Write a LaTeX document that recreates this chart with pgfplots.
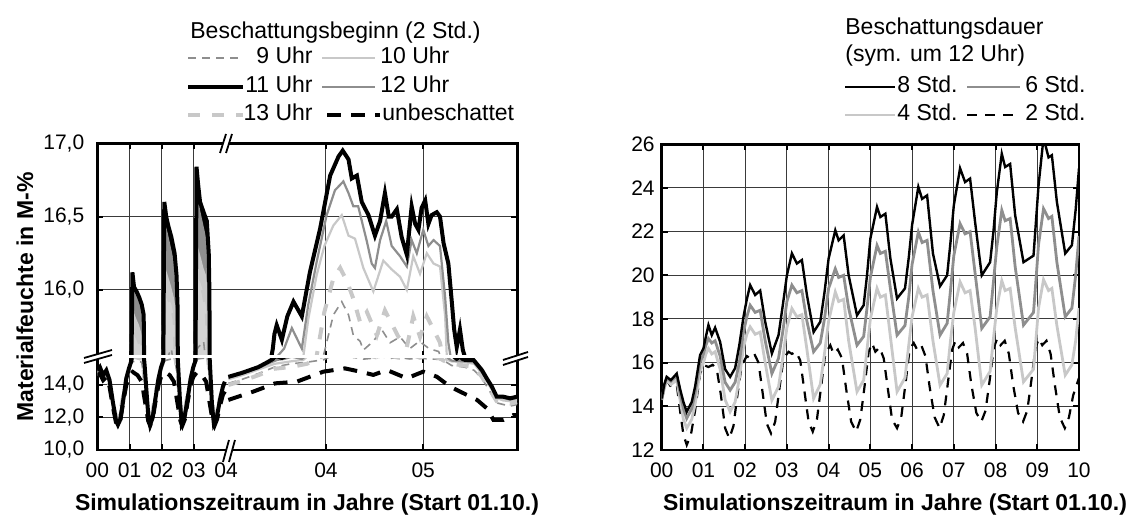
\documentclass[border=0pt]{standalone}
\usepackage{fontspec}
\setmainfont{Liberation Sans}
\usepackage{pgfplots}
\usepackage{pgfplotstable}
\pgfplotsset{compat=1.18}

\definecolor{ltgray}{HTML}{C8C8C8}
\definecolor{mdgray}{HTML}{8E8E8E}
\definecolor{dkgrid}{HTML}{3A3A3A}

% left panel: x in display units (00..04 compressed, then the zoomed part)
\pgfplotstableread{
x y
0 14.9
0.08 15.1
0.18 14.6
0.28 14.9
0.38 14.3
0.48 13.0
0.58 11.8
0.64 11.55
0.72 11.9
0.8 13.0
0.9 14.4
0.98 15.0
1.06 15.5
1.09 16.12
1.14 16.02
1.22 15.99
1.3 15.95
1.38 15.9
1.44 15.83
1.47 15.2
1.52 13.8
1.58 12.2
1.64 11.55
1.72 12.0
1.8 13.1
1.9 14.4
1.98 15.1
2.05 15.5
2.08 16.6
2.14 16.5
2.2 16.44
2.3 16.36
2.4 16.25
2.46 16.1
2.49 15.9
2.52 14.8
2.57 12.9
2.62 11.6
2.7 11.9
2.8 13.1
2.9 14.4
2.98 15.1
3.05 15.5
3.08 16.84
3.13 16.72
3.19 16.6
3.3 16.53
3.4 16.47
3.46 16.25
3.48 16.0
3.51 14.8
3.56 12.8
3.62 11.6
3.7 11.9
3.8 13.0
3.9 13.9
3.96 14.2
4.02 nan
4.07 14.5
4.5 14.75
5.0 15.1
5.31 15.43
5.45 15.6
5.5 15.7
5.57 15.76
5.73 15.66
5.9 15.82
6.09 15.92
6.35 15.82
6.6 16.12
6.92 16.42
7.23 16.78
7.49 16.91
7.62 16.95
7.8 16.89
7.9 16.76
8.06 16.78
8.21 16.6
8.42 16.51
8.62 16.37
8.78 16.47
8.93 16.66
9.05 16.5
9.14 16.5
9.3 16.55
9.45 16.36
9.61 16.24
9.76 16.57
9.87 16.45
9.97 16.41
10.07 16.56
10.18 16.61
10.28 16.45
10.38 16.51
10.54 16.53
10.64 16.5
10.75 16.32
10.9 16.18
11.01 15.91
11.08 15.73
11.16 15.61
11.26 15.73
11.35 15.59
11.42 15.54
11.68 15.54
11.94 14.92
12.09 14.41
12.25 13.9
12.4 13.28
12.6 13.28
12.82 13.18
13.03 13.28
}\tElf

\pgfplotstableread{
x y
0 14.8
0.08 15.0
0.18 14.5
0.28 14.8
0.38 14.2
0.48 12.9
0.58 11.9
0.64 11.75
0.72 12.1
0.8 13.1
0.9 14.4
0.98 15.0
1.06 15.5
1.09 16.05
1.16 15.97
1.24 15.93
1.32 15.89
1.4 15.83
1.44 15.6
1.47 15.0
1.52 13.6
1.58 12.3
1.64 11.8
1.72 12.2
1.8 13.2
1.9 14.4
1.98 15.1
2.05 15.5
2.08 16.45
2.16 16.38
2.24 16.3
2.32 16.22
2.4 16.12
2.46 15.95
2.5 15.3
2.55 13.6
2.6 12.3
2.64 11.8
2.72 12.1
2.8 13.2
2.9 14.4
2.98 15.1
3.05 15.5
3.08 16.7
3.15 16.55
3.22 16.48
3.3 16.4
3.4 16.3
3.45 16.0
3.49 15.2
3.54 13.5
3.6 12.2
3.64 11.8
3.72 12.1
3.82 13.2
3.9 13.9
3.96 14.1
4.02 nan
4.07 14.45
4.5 14.7
5.0 15.05
5.4 15.4
5.6 15.55
5.8 15.6
6.04 15.74
6.35 15.6
6.55 15.9
6.81 16.19
7.12 16.51
7.38 16.68
7.64 16.74
7.8 16.66
7.95 16.57
8.1 16.57
8.37 16.33
8.52 16.18
8.62 16.15
8.78 16.34
8.97 16.47
9.14 16.3
9.4 16.23
9.61 16.16
9.76 16.34
9.92 16.25
10.12 16.41
10.28 16.3
10.44 16.34
10.64 16.3
10.8 15.95
10.9 15.64
11.0 15.5
11.4 15.45
11.7 15.4
11.94 14.8
12.1 14.3
12.25 13.8
12.4 13.3
12.6 13.2
12.82 13.1
13.03 13.2
}\tZwoelf

\pgfplotstableread{
x y
0 14.7
0.08 14.9
0.18 14.5
0.28 14.7
0.38 14.1
0.48 12.9
0.58 12.0
0.64 11.95
0.72 12.3
0.8 13.3
0.9 14.5
0.98 15.0
1.06 15.5
1.09 15.85
1.18 15.8
1.26 15.76
1.34 15.7
1.4 15.6
1.44 15.1
1.5 13.7
1.56 12.5
1.64 12.0
1.72 12.4
1.8 13.4
1.9 14.5
1.98 15.1
2.05 15.5
2.08 16.15
2.18 16.08
2.26 16.02
2.34 15.95
2.42 15.85
2.46 15.6
2.5 14.9
2.55 13.4
2.6 12.4
2.64 12.0
2.72 12.3
2.8 13.4
2.9 14.5
2.98 15.1
3.05 15.5
3.08 16.3
3.18 16.22
3.26 16.15
3.34 16.1
3.42 15.95
3.46 15.6
3.5 14.8
3.55 13.3
3.6 12.3
3.64 12.0
3.72 12.3
3.82 13.3
3.9 13.9
3.96 14.0
4.02 nan
4.07 14.35
4.5 14.6
5.0 14.95
5.5 15.3
6.0 15.45
6.4 15.55
6.55 15.8
6.81 16.1
7.05 16.3
7.33 16.44
7.59 16.51
7.8 16.37
8.0 16.35
8.26 16.15
8.57 15.99
8.88 16.2
9.14 16.14
9.4 16.09
9.61 16.0
9.81 16.23
10.02 16.11
10.23 16.25
10.44 16.18
10.64 16.16
10.8 15.82
10.85 15.55
11.0 15.45
11.4 15.4
11.7 15.3
11.94 14.7
12.1 14.2
12.25 13.7
12.4 13.2
12.6 13.05
12.82 13.0
13.03 13.1
}\tZehn

\pgfplotstableread{
x y
0 14.6
0.08 14.8
0.18 14.4
0.28 14.6
0.38 14.0
0.48 12.9
0.58 12.1
0.64 12.0
0.72 12.4
0.8 13.3
0.9 14.4
0.98 14.9
1.06 15.5
1.09 15.75
1.2 15.7
1.3 15.65
1.38 15.6
1.42 15.3
1.48 14.0
1.56 12.6
1.64 12.1
1.72 12.4
1.8 13.4
1.9 14.4
1.98 15.0
2.05 15.5
2.08 16.0
2.2 15.95
2.3 15.9
2.4 15.8
2.44 15.5
2.5 14.6
2.56 13.0
2.64 12.1
2.72 12.4
2.8 13.4
2.9 14.4
2.98 15.0
3.05 15.5
3.08 16.1
3.2 16.05
3.3 15.98
3.4 15.85
3.44 15.6
3.5 14.6
3.56 13.0
3.64 12.1
3.72 12.4
3.82 13.3
3.9 13.9
3.96 14.0
4.02 nan
4.07 14.0
4.5 14.25
5.0 14.6
5.5 15.0
6.0 15.1
6.5 15.3
6.81 15.55
7.05 15.85
7.33 16.08
7.54 16.15
7.75 16.06
7.95 15.94
8.16 15.78
8.37 15.85
8.68 15.69
8.93 15.86
9.14 15.77
9.35 15.68
9.61 15.61
9.81 15.82
10.02 15.68
10.23 15.82
10.44 15.73
10.64 15.64
10.75 15.5
11.0 15.3
11.4 15.2
11.7 15.1
11.94 14.5
12.1 14.0
12.25 13.5
12.4 13.0
12.6 12.9
12.82 12.85
13.03 12.95
}\tDreizehn

\pgfplotstableread{
x y
0 14.6
0.08 14.8
0.18 14.4
0.28 14.6
0.38 14.0
0.48 12.9
0.58 12.1
0.64 12.0
0.72 12.4
0.8 13.3
0.9 14.4
0.98 14.9
1.08 15.4
1.2 15.5
1.38 15.4
1.46 14.2
1.56 12.6
1.64 12.1
1.72 12.4
1.8 13.4
1.9 14.4
1.98 15.0
2.1 15.5
2.3 15.6
2.42 15.4
2.5 14.4
2.56 13.0
2.64 12.1
2.72 12.4
2.8 13.4
2.9 14.4
2.98 15.0
3.1 15.6
3.3 15.65
3.42 15.4
3.5 14.4
3.56 13.0
3.64 12.1
3.72 12.4
3.82 13.3
3.9 13.9
3.96 14.0
4.02 nan
4.07 14.1
4.5 14.35
5.0 14.7
5.5 15.1
6.0 15.3
6.5 15.4
7.02 15.55
7.33 15.83
7.59 15.92
7.8 15.83
7.95 15.69
8.16 15.65
8.26 15.59
8.57 15.65
8.83 15.73
9.09 15.64
9.4 15.68
9.7 15.6
10.0 15.65
10.3 15.6
10.6 15.58
10.8 15.45
11.0 15.2
11.4 15.1
11.7 14.9
11.94 14.4
12.1 13.9
12.25 13.4
12.4 12.9
12.6 12.8
12.82 12.7
13.03 12.8
}\tNeun

\pgfplotstableread{
x y
0 14.6
0.08 14.7
0.18 14.3
0.28 14.5
0.38 13.9
0.48 12.7
0.58 11.7
0.64 11.5
0.72 11.9
0.8 12.9
0.9 14.0
0.98 14.5
1.1 14.8
1.25 14.6
1.38 14.2
1.48 13.0
1.58 11.8
1.64 11.5
1.72 11.9
1.8 12.9
1.9 14.0
1.98 14.5
2.1 14.8
2.25 14.6
2.38 14.2
2.48 13.0
2.58 11.8
2.64 11.5
2.72 11.9
2.8 12.9
2.9 14.0
2.98 14.5
3.1 14.8
3.25 14.6
3.38 14.2
3.48 13.0
3.58 11.8
3.64 11.5
3.72 11.9
3.82 12.8
3.9 13.4
3.96 13.6
4.02 nan
4.07 13.08
4.84 13.59
5.52 14.1
6.19 14.2
7.02 14.82
7.69 15.02
8.16 14.82
8.57 14.62
8.99 14.92
9.61 14.41
10.12 14.82
10.54 14.51
10.95 13.9
11.37 13.49
11.79 13.08
12.09 12.57
12.3 11.85
12.61 11.85
12.92 12.15
13.03 12.15
}\tOhne

\tikzset{
  s9/.style={mdgray, line width=0.8pt, dash pattern=on 4pt off 3pt},
  s10/.style={ltgray, line width=1.1pt},
  s11/.style={black, line width=2pt},
  s12/.style={mdgray, line width=1.1pt},
  s13/.style={ltgray, line width=2pt, dash pattern=on 6pt off 6pt},
  s0/.style={black, line width=2pt, dash pattern=on 7pt off 5pt},
  d8/.style={black, line width=1.2pt},
  d6/.style={mdgray, line width=1.4pt},
  d4/.style={ltgray, line width=1.4pt},
  d2/.style={black, line width=1.1pt, dash pattern=on 5pt off 4pt},
}

\pgfplotsset{
  base/.style={
    scale only axis,
    axis line style={line width=1.3pt},
    tick style={line width=1pt, black},
    major tick length=3pt,
    tick align=inside,
    grid=major,
    grid style={dkgrid, line width=0.5pt},
    tick label style={font=\fontsize{10.5}{12.5}\selectfont},
    xticklabel style={yshift=-3pt},
    /pgf/number format/assume math mode=true,
    unbounded coords=jump,
  },
  brk/.style={
    base,
    width=210pt,
    xmin=0, xmax=13.04,
    xtick={1,2,3,7.1,10.12},
    extra x ticks={0,4},
    extra x tick style={grid=none, major tick length=0pt},
    yticklabel style={xshift=-3pt, /pgf/number format/.cd, fixed, fixed zerofill, precision=1, use comma},
  },
}

\begin{document}
\begin{tikzpicture}
\path[use as bounding box] (0,0) rectangle (566pt,264.5pt);

% lower part of the left panel
\begin{axis}[brk, at={(48.65pt,39.5pt)}, anchor=south west, height=46.65pt,
  ymin=10, ymax=15.74, ytick={10,12,14},
  xticklabels={01,02,03,04,05}, extra x tick labels={00,04}]
\addplot[s9] table {\tNeun};
\addplot[s13] table {\tDreizehn};
\addplot[s10] table {\tZehn};
\addplot[s12] table {\tZwoelf};
\addplot[s11] table {\tElf};
\addplot[s0] table {\tOhne};
\end{axis}

% upper part of the left panel
\begin{axis}[brk, at={(48.65pt,86.15pt)}, anchor=south west, height=106.7pt,
  ymin=15.545, ymax=17.0, ytick={16,16.5,17},
  xticklabels={}, extra x tick labels={}]
\addplot[fill=black, draw=none, restrict x to domain=0:4.05, unbounded coords=discard] table {\tElf} \closedcycle;
\addplot[fill=mdgray, draw=none, restrict x to domain=0:4.05, unbounded coords=discard] table {\tZwoelf} \closedcycle;
\addplot[fill=ltgray, draw=none, restrict x to domain=0:4.05, unbounded coords=discard] table {\tZehn} \closedcycle;
\addplot[fill=ltgray!80!white, draw=none, restrict x to domain=0:4.05, unbounded coords=discard] table {\tDreizehn} \closedcycle;
\addplot[s9] table {\tNeun};
\addplot[s13] table {\tDreizehn};
\addplot[s10] table {\tZehn};
\addplot[s12] table {\tZwoelf};
\addplot[s11] table {\tElf};
\end{axis}

% right panel
\begin{axis}[base, at={(330.85pt,39.5pt)}, anchor=south west,
  width=208.65pt, height=152.85pt,
  xmin=0, xmax=10, ymin=12, ymax=26,
  xtick={0,1,...,10}, xticklabels={00,01,02,03,04,05,06,07,08,09,10},
  ytick={12,14,...,26}]
\addplot[d2] coordinates {(0,14.3) (0.06,14.8) (0.12,15.2) (0.22,14.9) (0.36,15.0) (0.44,13.8) (0.52,12.7) (0.6,12.23) (0.7,12.7) (0.8,13.8) (0.92,15.5)
 (1.0,15.9) (1.12,15.8) (1.22,15.9) (1.32,15.7) (1.42,14.5) (1.52,13.0) (1.62,12.53) (1.72,13.1) (1.82,14.6) (1.92,15.9)
 (2.04,16.3) (2.12,16.2) (2.22,16.4) (2.32,16.0) (2.42,14.6) (2.52,13.2) (2.62,12.76) (2.72,13.3) (2.82,14.8) (2.92,16.2)
 (3.04,16.5) (3.12,16.4) (3.22,16.5) (3.32,16.1) (3.42,14.7) (3.52,13.3) (3.62,12.84) (3.72,13.4) (3.82,14.9) (3.92,16.4)
 (4.04,16.8) (4.12,16.4) (4.22,16.6) (4.32,16.2) (4.42,14.8) (4.54,13.3) (4.66,12.84) (4.76,13.4) (4.86,14.9) (4.96,16.5)
 (5.04,16.9) (5.12,16.5) (5.22,16.7) (5.32,16.2) (5.42,14.8) (5.52,13.4) (5.64,13.0) (5.74,13.5) (5.84,15.0) (5.94,16.6)
 (6.04,16.9) (6.12,16.6) (6.22,16.8) (6.32,16.3) (6.42,14.9) (6.54,13.5) (6.66,13.0) (6.76,13.6) (6.86,15.1) (6.96,16.6)
 (7.04,17.0) (7.12,16.7) (7.22,16.9) (7.32,16.4) (7.42,15.0) (7.54,13.7) (7.66,13.3) (7.76,13.8) (7.86,15.2) (7.96,16.7)
 (8.04,17.1) (8.12,16.8) (8.22,17.0) (8.32,16.4) (8.42,15.0) (8.54,13.7) (8.66,13.3) (8.76,13.8) (8.86,15.2) (8.96,16.7)
 (9.04,17.1) (9.12,16.8) (9.22,17.0) (9.32,16.4) (9.42,15.0) (9.54,13.5) (9.66,13.0) (9.76,13.5) (9.86,14.5) (10.0,15.3)};
\addplot[d4] coordinates {(0,14.3) (0.06,14.8) (0.12,15.2) (0.22,15.0) (0.36,15.2) (0.44,14.3) (0.52,13.4) (0.6,13.0) (0.72,13.4) (0.8,14.1) (0.92,15.6)
 (1.0,16.0) (1.06,16.4) (1.12,16.65) (1.2,16.4) (1.28,16.5) (1.4,15.7) (1.52,14.3) (1.64,13.75) (1.76,14.2) (1.86,15.3) (1.96,16.7)
 (2.04,17.3) (2.12,17.64) (2.24,17.3) (2.36,17.4) (2.48,16.0) (2.64,14.28) (2.8,14.9) (2.9,16.2) (3.0,17.6)
 (3.12,18.48) (3.24,18.1) (3.36,18.2) (3.48,16.6) (3.64,14.36) (3.8,15.0) (3.9,16.4) (4.0,17.9)
 (4.16,19.24) (4.24,18.8) (4.36,18.9) (4.48,17.0) (4.68,14.67) (4.84,15.2) (4.92,16.6) (5.0,18.0)
 (5.16,19.4) (5.24,19.0) (5.36,19.1) (5.48,17.2) (5.64,14.67) (5.83,15.3) (5.92,16.8) (6.0,18.1)
 (6.15,19.4) (6.24,19.0) (6.36,19.1) (6.5,17.0) (6.67,14.97) (6.84,15.5) (6.92,17.0) (7.0,18.3)
 (7.15,19.7) (7.27,19.2) (7.39,19.3) (7.51,17.6) (7.67,14.97) (7.87,15.6) (7.95,17.1) (8.03,18.5)
 (8.15,19.75) (8.23,19.3) (8.35,19.4) (8.47,17.6) (8.67,15.12) (8.91,15.7) (8.97,17.1) (9.03,18.5)
 (9.15,19.8) (9.27,19.3) (9.35,19.4) (9.47,17.7) (9.67,15.43) (9.83,15.9) (9.92,17.0) (10.0,18.5)};
\addplot[d6] coordinates {(0,14.3) (0.06,14.9) (0.12,15.3) (0.22,15.15) (0.36,15.4) (0.44,14.6) (0.52,13.9) (0.6,13.45) (0.72,13.9) (0.8,14.6) (0.92,16.0)
 (1.0,16.4) (1.06,16.8) (1.12,17.1) (1.2,16.9) (1.28,17.0) (1.4,16.3) (1.52,15.1) (1.64,14.74) (1.76,15.1) (1.86,16.0) (1.96,17.4)
 (2.04,18.1) (2.12,18.63) (2.24,18.3) (2.36,18.4) (2.48,17.0) (2.64,15.5) (2.8,16.2) (2.9,17.4) (3.0,18.8)
 (3.12,19.55) (3.24,19.2) (3.36,19.3) (3.48,17.9) (3.64,16.5) (3.8,16.9) (3.9,18.0) (4.0,19.4)
 (4.16,20.3) (4.24,19.9) (4.36,20.0) (4.48,18.5) (4.68,16.8) (4.84,17.2) (4.92,18.5) (5.0,19.9)
 (5.16,21.37) (5.24,21.0) (5.36,21.1) (5.48,19.4) (5.64,17.26) (5.83,17.7) (5.92,19.0) (6.0,20.5)
 (6.15,21.98) (6.24,21.5) (6.36,21.6) (6.5,19.3) (6.67,17.26) (6.84,17.8) (6.92,19.3) (7.0,20.9)
 (7.15,22.37) (7.27,21.9) (7.39,22.0) (7.51,20.1) (7.67,17.57) (7.87,18.1) (7.95,19.7) (8.03,21.3)
 (8.15,22.98) (8.23,22.5) (8.35,22.6) (8.47,20.4) (8.67,17.72) (8.91,18.3) (8.97,19.8) (9.03,21.4)
 (9.15,23.05) (9.27,22.6) (9.35,22.7) (9.47,20.6) (9.67,18.1) (9.83,18.5) (9.92,20.0) (10.0,21.8)};
\addplot[d8] coordinates {(0,14.36) (0.06,15.0) (0.12,15.35) (0.22,15.2) (0.36,15.5) (0.44,14.8) (0.52,14.2) (0.6,13.75) (0.72,14.2) (0.8,14.9) (0.92,16.35)
 (1.0,16.65) (1.06,17.2) (1.12,17.72) (1.2,17.26) (1.28,17.6) (1.4,16.95) (1.52,15.7) (1.64,15.35) (1.76,15.75) (1.86,16.8) (1.96,18.1)
 (2.04,18.9) (2.12,19.55) (2.24,19.1) (2.36,19.3) (2.48,17.87) (2.64,16.42) (2.8,17.26) (2.9,18.6) (3.0,20.0)
 (3.12,21.0) (3.24,20.54) (3.36,20.7) (3.48,19.1) (3.64,17.4) (3.8,17.87) (3.9,19.2) (4.0,20.77)
 (4.16,22.06) (4.24,21.6) (4.36,21.83) (4.48,20.0) (4.68,18.17) (4.84,18.63) (4.92,20.0) (5.0,21.68)
 (5.16,23.13) (5.24,22.67) (5.36,22.82) (5.48,20.77) (5.64,18.94) (5.83,19.4) (5.92,20.8) (6.0,22.3)
 (6.15,24.05) (6.24,23.5) (6.36,23.66) (6.5,21.0) (6.67,19.5) (6.84,20.0) (6.92,21.5) (7.0,23.2)
 (7.15,24.9) (7.27,24.27) (7.39,24.43) (7.51,22.44) (7.67,20.0) (7.87,20.6) (7.95,22.0) (8.03,23.8)
 (8.15,25.57) (8.23,24.96) (8.35,25.1) (8.47,22.75) (8.67,20.6) (8.91,20.9) (8.97,22.5) (9.03,24.1)
 (9.15,26.3) (9.27,25.4) (9.35,25.5) (9.47,23.36) (9.67,21.0) (9.83,21.38) (9.92,23.0) (10.0,24.9)};
\end{axis}

% decorations and texts, in pixel units of the reference
\begin{scope}[yshift=264.5pt, x=0.5pt, y=-0.5pt, font=\fontsize{11.5}{13.8}\selectfont]
  % break between the lower and upper part
  \draw[white, line width=1.6pt] (99,356.7) -- (515.8,356.7);
  \fill[white] (84,358) -- (112,350) -- (112,355) -- (84,363) -- cycle;
  \draw[line width=0.9pt] (84,358) -- (112,350) (84,363) -- (112,355);
  \fill[white] (503,360) -- (528,352) -- (528,357) -- (503,365) -- cycle;
  \draw[line width=0.9pt] (503,360) -- (528,352) (503,365) -- (528,357);
  % break of the time axis
  \fill[white] (220,153) -- (226,134) -- (232,134) -- (226,153) -- cycle;
  \draw[line width=0.9pt] (220,153) -- (226,134) (226,153) -- (232,134);
  \fill[white] (223,462) -- (229,440) -- (235,440) -- (229,462) -- cycle;
  \draw[line width=0.9pt] (223,462) -- (229,440) (229,462) -- (235,440);

  % left legend
  \node[anchor=base west, inner sep=0] at (190,39) {Beschattungsbeginn (2 Std.)};
  \draw[s9] (188,58) -- (242,58);
  \node[anchor=mid east, inner sep=0] at (313,58) {9 Uhr};
  \draw[s10] (322,58) -- (375,58);
  \node[anchor=mid west, inner sep=0] at (380,58) {10 Uhr};
  \draw[s11] (188,87) -- (243,87);
  \node[anchor=mid east, inner sep=0] at (313,87) {11 Uhr};
  \draw[s12] (322,87) -- (375,87);
  \node[anchor=mid west, inner sep=0] at (380,87) {12 Uhr};
  \draw[s13] (188,115) -- (243,115);
  \node[anchor=mid east, inner sep=0] at (313,115) {13 Uhr};
  \draw[s0] (327,115) -- (380,115);
  \node[anchor=mid west, inner sep=0] at (382,115) {unbeschattet};

  % right legend
  \node[anchor=base west, inner sep=0] at (845,35) {Beschattungsdauer};
  \node[anchor=base west, inner sep=0] at (845,62) {(sym. um 12 Uhr)};
  \draw[d8] (845,87) -- (895,87);
  \node[anchor=mid west, inner sep=0] at (897,87) {8 Std.};
  \draw[d6] (967,87) -- (1020,87);
  \node[anchor=mid west, inner sep=0] at (1025,87) {6 Std.};
  \draw[d4] (845,115) -- (895,115);
  \node[anchor=mid west, inner sep=0] at (897,115) {4 Std.};
  \draw[d2] (967,115) -- (1020,115);
  \node[anchor=mid west, inner sep=0] at (1025,115) {2 Std.};

  % axis titles
  \node[rotate=90, font=\fontsize{11.5}{13.8}\selectfont\bfseries] at (25,297) {Materialfeuchte in M-\%};
  \node[font=\fontsize{11.5}{13.8}\selectfont\bfseries] at (307,505) {Simulationszeitraum in Jahre (Start 01.10.)};
  \node[font=\fontsize{11.5}{13.8}\selectfont\bfseries] at (895,505) {Simulationszeitraum in Jahre (Start 01.10.)};
\end{scope}
\end{tikzpicture}
\end{document}
